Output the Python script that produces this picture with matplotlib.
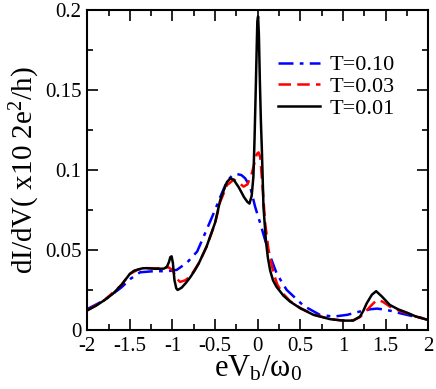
import matplotlib
matplotlib.use('Agg')
import matplotlib.pyplot as plt
from matplotlib.ticker import MultipleLocator

plt.rcParams['font.family'] = 'Liberation Serif'
plt.rcParams['mathtext.fontset'] = 'custom'
plt.rcParams['mathtext.rm'] = 'Liberation Serif'
plt.rcParams['mathtext.it'] = 'Liberation Serif:italic'

# T = 0.01 (black, solid)
x_t001 = [-2.0, -1.9, -1.8, -1.7, -1.6, -1.5, -1.45, -1.4, -1.35, -1.3, -1.2, -1.1,
          -1.065, -1.04, -1.025, -1.01, -0.995, -0.976, -0.955, -0.94, -0.92, -0.89,
          -0.84, -0.79, -0.74, -0.69, -0.6, -0.5, -0.44, -0.4, -0.36, -0.32, -0.28,
          -0.22, -0.16, -0.12, -0.096, -0.07, -0.05, -0.037, -0.025, -0.012, -0.004,
          0.005, 0.014, 0.026, 0.038, 0.049, 0.068, 0.096, 0.12, 0.147, 0.18, 0.22,
          0.264, 0.3, 0.38, 0.5, 0.655, 0.85, 1.0, 1.12, 1.2, 1.24, 1.28, 1.34, 1.39,
          1.455, 1.55, 1.65, 1.75, 1.85, 2.0]
y_t001 = [0.0122, 0.0150, 0.0185, 0.0225, 0.0280, 0.0350, 0.0370, 0.0378, 0.0385,
          0.0386, 0.0382, 0.0383, 0.0395, 0.0425, 0.0455, 0.0460, 0.0420, 0.0310,
          0.0260, 0.0250, 0.0255, 0.0265, 0.0295, 0.0330, 0.0370, 0.0417, 0.0520,
          0.0670, 0.0810, 0.0870, 0.0925, 0.0948, 0.0938, 0.0890, 0.0830, 0.0800,
          0.0790, 0.0840, 0.0960, 0.1190, 0.1450, 0.1750, 0.1930, 0.1960, 0.1850,
          0.1550, 0.1300, 0.1130, 0.0770, 0.0560, 0.0450, 0.0370, 0.0310, 0.0270,
          0.0240, 0.0215, 0.0177, 0.0135, 0.0094, 0.0067, 0.0058, 0.0058, 0.0083,
          0.0120, 0.0167, 0.0220, 0.0242, 0.0210, 0.0156, 0.0128, 0.0108, 0.0085,
          0.0062]

# T = 0.03 (red, dashed)
x_t003 = [-2.0, -1.8, -1.6, -1.5, -1.4, -1.3, -1.2, -1.1, -1.05, -1.0, -0.97, -0.94,
          -0.91, -0.85, -0.79, -0.69, -0.6, -0.5, -0.44, -0.36, -0.28, -0.22, -0.166,
          -0.12, -0.068, -0.03, -0.01, 0.01, 0.03, 0.06, 0.088, 0.127, 0.186, 0.23,
          0.284, 0.38, 0.5, 0.655, 0.85, 1.0, 1.12, 1.2, 1.26, 1.32, 1.38, 1.417, 1.47,
          1.55, 1.65, 1.75, 1.85, 2.0]
y_t003 = [0.0122, 0.0185, 0.0280, 0.0350, 0.0378, 0.0386, 0.0385, 0.0386, 0.0392,
          0.0375, 0.0344, 0.0315, 0.0300, 0.0310, 0.0335, 0.0417, 0.0520, 0.0665,
          0.0800, 0.0905, 0.0940, 0.0920, 0.0896, 0.0910, 0.0980, 0.1060, 0.1100,
          0.1110, 0.1080, 0.0875, 0.0667, 0.0500, 0.0354, 0.0285, 0.0235, 0.0180,
          0.0137, 0.0096, 0.0068, 0.0058, 0.0060, 0.0080, 0.0110, 0.0146, 0.0178,
          0.0187, 0.0175, 0.0146, 0.0122, 0.0104, 0.0084, 0.0062]

# T = 0.10 (blue, dash-dot)
x_t010 = [-2.0, -1.8, -1.6, -1.49, -1.38, -1.2, -1.07, -0.95, -0.83, -0.71, -0.6,
          -0.5, -0.44, -0.36, -0.3, -0.245, -0.19, -0.147, -0.088, -0.03, 0.03, 0.088,
          0.147, 0.225, 0.34, 0.45, 0.54, 0.73, 0.89, 1.05, 1.2, 1.32, 1.4, 1.475,
          1.57, 1.67, 1.8, 2.0]
y_t010 = [0.0130, 0.0185, 0.0265, 0.0320, 0.0360, 0.0368, 0.0366, 0.0375, 0.0420,
          0.0490, 0.0625, 0.0750, 0.0830, 0.0930, 0.0965, 0.0975, 0.0968, 0.0948,
          0.0896, 0.0770, 0.0667, 0.0560, 0.0460, 0.0350, 0.0250, 0.0195, 0.0150,
          0.0094, 0.0083, 0.0094, 0.0115, 0.0129, 0.0133, 0.0128, 0.0118, 0.0104,
          0.0088, 0.0066]

fig = plt.figure(figsize=(4.36, 3.89), dpi=100)
ax = fig.add_axes([0.2, 0.152, 0.782, 0.822])

ax.plot(x_t010, y_t010, color='blue', lw=1.8, dashes=(6, 2.5, 1.5, 2.5), label='T=0.10')
ax.plot(x_t003, y_t003, color='red', lw=1.8, dashes=(5, 2.5), label='T=0.03')
ax.plot(x_t001, y_t001, color='black', lw=1.8, label='T=0.01')

ax.set_xlim(-2, 2)
ax.set_ylim(0, 0.2)
ax.xaxis.set_minor_locator(MultipleLocator(0.25))
ax.yaxis.set_minor_locator(MultipleLocator(0.025))
ax.set_xticks([-2, -1.5, -1, -0.5, 0, 0.5, 1, 1.5, 2])
ax.set_xticklabels(['-2', '-1.5', '-1', '-0.5', '0', '0.5', '1', '1.5', '2'])
ax.set_yticks([0, 0.05, 0.1, 0.15, 0.2])
ax.set_yticklabels(['0', '0.05', '0.1', '0.15', '0.2'])
ax.tick_params(which='both', direction='in', top=True, right=True, labelsize=15, width=1.2)
ax.tick_params(which='major', length=8)
ax.tick_params(axis='x', which='major', pad=5)
ax.tick_params(axis='y', which='major', pad=4)
ax.tick_params(which='minor', length=4)
for s in ax.spines.values():
    s.set_linewidth(1.5)

ax.set_xlabel('eV$_\\mathrm{b}$/ω$_\\mathrm{0}$', fontsize=22, labelpad=-1)
ax.set_ylabel('dI/dV( x10 2e$^\\mathrm{2}$/h)', fontsize=21, labelpad=2)

ax.legend(loc='upper left', bbox_to_anchor=(0.56, 0.86), frameon=False, fontsize=16,
          handlelength=1.9, handletextpad=0.4, labelspacing=0.05, borderpad=0,
          borderaxespad=0)

fig.savefig('out.png', dpi=100)
